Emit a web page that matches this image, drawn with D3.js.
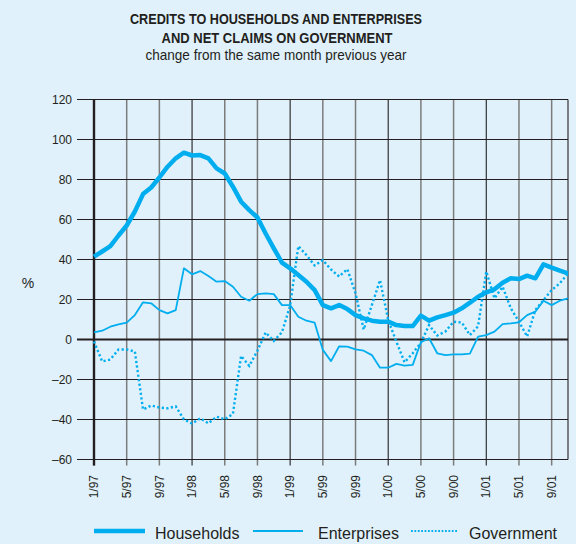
<!DOCTYPE html>
<html>
<head>
<meta charset="utf-8">
<script src="https://cdn.jsdelivr.net/npm/d3@7"></script>
<style>
  body { margin: 0; background: #e0f1fb; }
  svg { display: block; }
  .title { font-family: "Liberation Sans", Arial, sans-serif; fill: #231f20; }
  .tick-text { font-family: "Liberation Sans", Arial, sans-serif; font-size: 12px; fill: #231f20; }
  .legend-text { font-family: "Liberation Sans", Arial, sans-serif; font-size: 16px; fill: #231f20; }
</style>
</head>
<body>
<svg width="576" height="544"></svg>
<script>
// ***********************************
// Data (monthly, 1/97 to 11/01, % change y/y)

var tickLabels = ["1/97", "5/97", "9/97", "1/98", "5/98", "9/98", "1/99", "5/99",
  "9/99", "1/00", "5/00", "9/00", "1/01", "5/01", "9/01"];

var yTicks = [-60, -40, -20, 0, 20, 40, 60, 80, 100, 120];

var households = [41.4, 44, 46.7, 52, 57, 64, 72.7, 76, 81, 86.4,
  90.6, 93.4, 92, 92.2, 90.6, 85.6, 83, 76.4, 68.9, 64.7,
  61, 53, 45.6, 38.4, 35.6, 32.2, 28.9, 24.7, 17.2, 15.6,
  17.2, 15.2, 12.2, 10.6, 9.4, 8.9, 8.9, 7.2, 6.7, 6.7,
  11.9, 9.4, 11.1, 12.2, 13.4, 15.6, 18.4, 21.4, 23.6, 25.1,
  28.4, 30.6, 30.2, 31.9, 30.6, 37.6, 35.9, 34.4, 33.1];

var enterprises = [3.6, 4.4, 6.4, 7.6, 8.4, 12.2, 18.6, 18.1, 14.7, 13.1,
  14.7, 35.6, 32.6, 34.2, 31.7, 28.9, 29.2, 26.4, 21.4, 19.4,
  22.7, 23.1, 22.7, 17.2, 17.2, 11.4, 9.4, 8.4, -5.2, -10.8,
  -3.4, -3.6, -4.9, -5.6, -7.8, -14.1, -14.1, -12.2, -13.1, -12.7,
  -1.4, 0.6, -6.9, -7.8, -7.4, -7.4, -7.1, 1.4, 2.2, 3.9,
  7.7, 8.1, 8.6, 12.2, 13.9, 19.4, 17.2, 19.4, 20.6];

var government = [-1, -11, -10, -5, -5, -6, -35, -33, -34, -34.4,
  -33.4, -40, -42, -39.4, -41.9, -38.6, -39.9, -37.2, -8.2, -13.2,
  -5.6, 3.5, -0.7, 3.6, 17, 46.7, 42.2, 37, 39.7, 35,
  31.5, 35.2, 23.1, 5, 17.2, 29.7, 9.7, -1.1, -11.4, -6.9,
  -1.5, 7.2, 2, 4, 8.9, 8.5, 2.2, 6.6, 34, 20.6,
  26.4, 15.6, 8.9, 1.5, 14.7, 19.7, 24.7, 28.1, 33];

var seriesNames = ["Households", "Enterprises", "Government"];

// ***********************************
// Basic setup

var svg = d3.select("svg"),
  width = +svg.attr("width"),
  height = +svg.attr("height");

svg.append("rect")
  .attr("width", width)
  .attr("height", height)
  .attr("fill", "#e0f1fb");

var lineColor = "#00aeef";

// x is the month index from 1/97, y is the percent change
var x = d3.scaleLinear()
  .domain([0, households.length - 1])
  .range([94, 568]);

var y = d3.scaleLinear()
  .domain([-60, 120])
  .range([459.5, 99.5]);

var line = d3.line()
  .x(function(d, i) { return x(i); })
  .y(function(d) { return y(d); });

// ***********************************
// Titles (squeezed a bit to look like the condensed face of the original)

svg.append("text").attr("class", "title")
  .attr("x", 276).attr("y", 23.5)
  .attr("text-anchor", "middle")
  .attr("font-size", 15).attr("font-weight", "bold")
  .attr("textLength", 292).attr("lengthAdjust", "spacingAndGlyphs")
  .text("CREDITS TO HOUSEHOLDS AND ENTERPRISES");

svg.append("text").attr("class", "title")
  .attr("x", 277).attr("y", 42.5)
  .attr("text-anchor", "middle")
  .attr("font-size", 15).attr("font-weight", "bold")
  .attr("textLength", 231).attr("lengthAdjust", "spacingAndGlyphs")
  .text("AND NET CLAIMS ON GOVERNMENT");

svg.append("text").attr("class", "title")
  .attr("x", 276).attr("y", 59.5)
  .attr("text-anchor", "middle")
  .attr("font-size", 15)
  .attr("textLength", 261).attr("lengthAdjust", "spacingAndGlyphs")
  .text("change from the same month previous year");

// ***********************************
// Grid and axes

drawGrid();
drawYAxis();
drawXAxis();

// ***********************************
// The three series

svg.append("path")
  .datum(enterprises)
  .attr("fill", "none")
  .attr("stroke", lineColor)
  .attr("stroke-width", 1.8)
  .attr("stroke-linejoin", "round")
  .attr("d", line);

svg.append("path")
  .datum(government)
  .attr("fill", "none")
  .attr("stroke", lineColor)
  .attr("stroke-width", 2.4)
  .attr("stroke-dasharray", "2.2,2.4")
  .attr("d", line);

svg.append("path")
  .datum(households)
  .attr("fill", "none")
  .attr("stroke", lineColor)
  .attr("stroke-width", 4.5)
  .attr("stroke-linejoin", "round")
  .attr("d", line);

// ***********************************
// Legend

drawLegend();

// ***********************************
// FUNCTIONS

function drawGrid() {
  var g = svg.append("g").attr("class", "grid");

  // vertical lines at each labelled month, January ones darker
  g.selectAll(".vline")
    .data(tickLabels)
    .enter().append("line")
    .attr("x1", function(d, i) { return x(i * 4); })
    .attr("x2", function(d, i) { return x(i * 4); })
    .attr("y1", y(120))
    .attr("y2", y(-60) + 6)
    .attr("stroke", function(d) { return d.indexOf("1/") === 0 ? "#231f20" : "#7c7c7c"; })
    .attr("stroke-width", function(d) { return d.indexOf("1/") === 0 ? 1.1 : 1.5; });

  // horizontal lines
  g.selectAll(".hline")
    .data(yTicks)
    .enter().append("line")
    .attr("x1", 77)
    .attr("x2", x.range()[1])
    .attr("y1", function(d) { return y(d); })
    .attr("y2", function(d) { return y(d); })
    .attr("stroke", "#231f20")
    .attr("stroke-width", function(d) { return d === 0 ? 2.2 : 1.1; });

  // right border
  g.append("line")
    .attr("x1", x.range()[1]).attr("x2", x.range()[1])
    .attr("y1", y(120)).attr("y2", y(-60))
    .attr("stroke", "#231f20").attr("stroke-width", 1.1);

  // left axis, heavier
  g.append("line")
    .attr("x1", 94).attr("x2", 94)
    .attr("y1", y(120)).attr("y2", y(-60) + 6)
    .attr("stroke", "#231f20").attr("stroke-width", 2.4);
}

function drawYAxis() {
  svg.selectAll(".ylabel")
    .data(yTicks)
    .enter().append("text")
    .attr("class", "tick-text")
    .attr("x", 72)
    .attr("y", function(d) { return y(d); })
    .attr("dy", "0.35em")
    .attr("text-anchor", "end")
    .text(function(d) { return d < 0 ? "\u2013" + Math.abs(d) : d; });

  svg.append("text")
    .attr("class", "tick-text")
    .attr("x", 28).attr("y", 288)
    .attr("text-anchor", "middle")
    .style("font-size", "14px")
    .text("%");
}

function drawXAxis() {
  svg.selectAll(".xlabel")
    .data(tickLabels)
    .enter().append("text")
    .attr("class", "tick-text")
    .attr("text-anchor", "end")
    .attr("dy", "0.35em")
    .attr("transform", function(d, i) {
      return "translate(" + x(i * 4) + ",475) rotate(-90)";
    })
    .text(function(d) { return d; });
}

function drawLegend() {
  var items = [
    { name: seriesNames[0], x1: 94, x2: 145, tx: 155, w: 4.5, dash: null },
    { name: seriesNames[1], x1: 253, x2: 303, tx: 318, w: 1.8, dash: null },
    { name: seriesNames[2], x1: 411, x2: 458, tx: 469, w: 2, dash: "1.8,1.6" }
  ];
  var g = svg.append("g").attr("class", "legend");
  items.forEach(function(it) {
    g.append("line")
      .attr("x1", it.x1).attr("x2", it.x2)
      .attr("y1", 531).attr("y2", 531)
      .attr("stroke", lineColor)
      .attr("stroke-width", it.w)
      .attr("stroke-dasharray", it.dash);
    g.append("text")
      .attr("class", "legend-text")
      .attr("x", it.tx).attr("y", 538.5)
      .text(it.name);
  });
}
</script>
</body>
</html>
